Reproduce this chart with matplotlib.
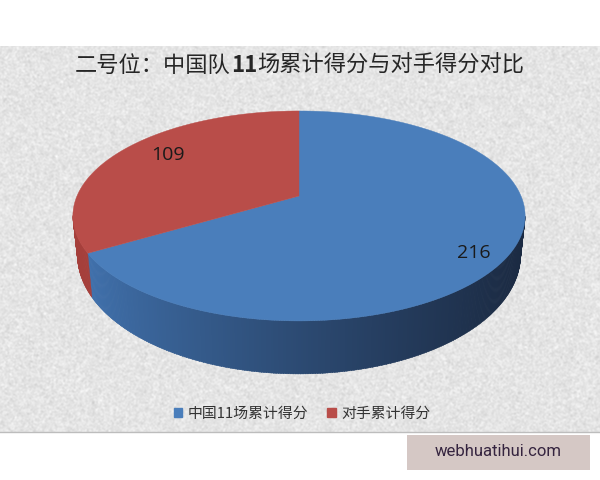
import numpy as np
import matplotlib
matplotlib.use("Agg")
import matplotlib.pyplot as plt
from matplotlib.patches import Patch, Rectangle
from matplotlib.colors import to_rgb

categories = ["中国11场累计得分", "对手累计得分"]
values = [216, 109]
title_parts = ["二号位：中国队", "11", "场累计得分与对手得分对比"]
top_colors = ["#4a7ebb", "#b94d49"]
side_left = {"中国11场累计得分": "#4070ab", "对手累计得分": "#a53f3b"}
watermark = "webhuatihui.com"

plt.rcParams["font.family"] = ["Noto Sans CJK SC", "DejaVu Sans"]

fig = plt.figure(figsize=(6, 4.8), dpi=100)
ax = fig.add_axes([0, 0, 1, 1])
ax.set_xlim(0, 600)
ax.set_ylim(480, 0)
ax.axis("off")

# paper-like backdrop (decorative texture only, no data)
rng = np.random.default_rng(3)
h, w = 386, 600
noise = rng.normal(0, 1, (h, w))
k = np.array([0.25, 0.5, 0.25])
noise = np.apply_along_axis(lambda r: np.convolve(r, k, "same"), 1, noise)
noise = np.apply_along_axis(lambda r: np.convolve(r, k, "same"), 0, noise)
tex = np.clip(0.895 + 0.05 * noise, 0, 1)
ax.imshow(tex, cmap="gray", vmin=0, vmax=1, extent=(0, 600, 432, 46),
          aspect="auto", zorder=0, interpolation="nearest")
ax.set_xlim(0, 600)
ax.set_ylim(480, 0)
ax.plot([0, 600], [432, 432], color="#bdbdbd", lw=1, zorder=1)

# perspective projection of the pie's top disc
CX, CY, RX, RY, V0, C = 299.0, 216.0, 222.0, 105.0, 20.0, 0.19


def top_xy(theta):
    X, Y = np.sin(theta), np.cos(theta)
    d = 1 + C * Y
    return CX + RX * X / d, CY - (RY * Y + V0) / d


def bottom_xy(theta):
    x, y = top_xy(theta)
    return CX + (x - CX) * 0.98, 255.0 + (y - CY) * 119.0 / 105.0


edges = np.concatenate([[0], np.cumsum(values)]) / np.sum(values) * 2 * np.pi
lim0, lim1 = np.arccos(-C), 2 * np.pi - np.arccos(-C)
dark = np.array(to_rgb("#1b2a42"))

# walls, front part only
for i, cat in enumerate(categories):
    a0, a1 = max(edges[i], lim0), min(edges[i + 1], lim1)
    if a1 <= a0:
        continue
    th = np.linspace(a0, a1, max(3, int((a1 - a0) * 110)))
    base = np.array(to_rgb(side_left[cat]))
    for t0, t1 in zip(th[:-1], th[1:]):
        tt = np.array([t0, t1 + 0.004])
        xt, yt = top_xy(tt)
        xb, yb = bottom_xy(tt)
        frac = np.clip(((xt.mean() - 90) / 435), 0, 1) ** 0.85
        ax.fill(np.r_[xt, xb[::-1]], np.r_[yt, yb[::-1]],
                color=base * (1 - frac) + dark * frac, lw=0.3, zorder=2)

# top faces
ax_apex = (CX, CY - V0)
for i in range(len(values)):
    th = np.linspace(edges[i], edges[i + 1], 300)
    x, y = top_xy(th)
    ax.fill(np.r_[ax_apex[0], x], np.r_[ax_apex[1], y],
            color=top_colors[i], lw=0.3, zorder=3)

# data labels
ax.text(474, 253, str(values[0]), fontsize=14, family="Open Sans",
        color="#1a1a1a", ha="center", va="center", zorder=4)
ax.text(168, 155, str(values[1]), fontsize=14, family="Open Sans",
        color="#1a1a1a", ha="center", va="center", zorder=4)

# title, with the digits set in bold
renderer = fig.canvas.get_renderer()
cursor = 75.0
for part, weight in zip(title_parts, ["normal", "bold", "normal"]):
    t = ax.text(cursor, 65, part, fontsize=16.0, color="#262626", ha="left",
                va="center", weight=weight, zorder=4)
    cursor += t.get_window_extent(renderer).width

handles = [Patch(color=c, label=l) for c, l in zip(top_colors, categories)]
ax.legend(handles=handles, ncol=2, loc="center", frameon=False,
          bbox_to_anchor=(302, 414), bbox_transform=ax.transData,
          fontsize=10.7, handlelength=0.58, handleheight=0.58,
          handletextpad=0.35, columnspacing=1.3, labelcolor="#333333")

# watermark strip
ax.add_patch(Rectangle((407, 435), 183, 35, color="#d5c8c5", lw=0, zorder=2))
ax.text(498, 452, watermark, fontsize=12, family="Roboto", color="#35243f",
        ha="center", va="center", zorder=4)

fig.savefig("out.png", dpi=100)
